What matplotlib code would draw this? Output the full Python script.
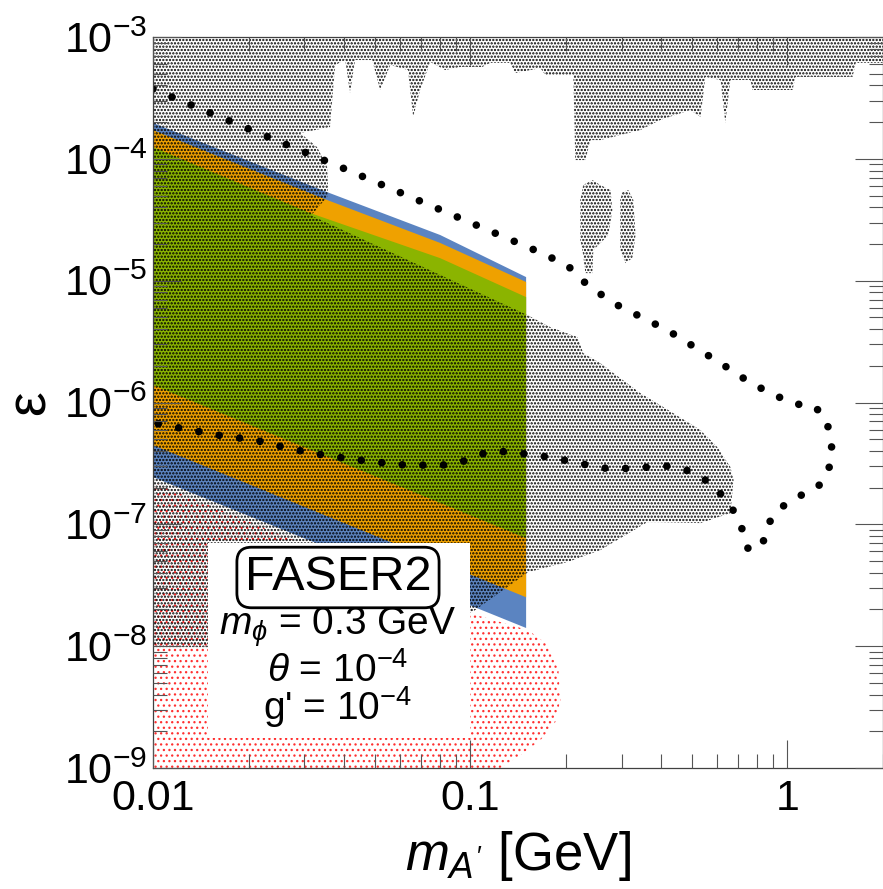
import numpy as np
import matplotlib
matplotlib.use("Agg")
import matplotlib.pyplot as plt
from matplotlib.patches import Rectangle
from matplotlib.ticker import FixedLocator, FixedFormatter, NullFormatter, LogLocator

plt.rcParams['font.family'] = ['Liberation Sans', 'DejaVu Sans']
plt.rcParams['mathtext.fontset'] = 'custom'
plt.rcParams['mathtext.rm'] = 'Liberation Sans'
plt.rcParams['mathtext.it'] = 'Liberation Sans:italic'
plt.rcParams['mathtext.bf'] = 'Liberation Sans:bold'
plt.rcParams['hatch.linewidth'] = 1.1

# --- sensitivity bands (m_A' in GeV, epsilon) ---
band_x_top = [0.01, 0.0354, 0.0804, 0.15]
green_x_top = [0.01, 0.0313, 0.0804, 0.15]
band_x_bot = [0.01, 0.15]
blue_top = [1.97e-4, 5.33e-5, 2.37e-5, 1.07e-5]
orange_top = [1.72e-4, 4.59e-5, 2.04e-5, 9.75e-6]
green_top = [1.25e-4, 3.59e-5, 1.53e-5, 7.33e-6]
blue_bot = [2.44e-7, 1.41e-8]
orange_bot = [4.47e-7, 2.52e-8]
green_bot = [1.39e-6, 7.7e-8]

# --- existing constraints (grey), given as log10 values ---
grey_lx = [-2.000, 0.303, 0.303, 0.215, 0.205, 0.025, 0.016, -0.110, -0.117, -0.180,
           -0.196, -0.211, -0.259, -0.274, -0.306, -0.401, -0.464, -0.590, -0.621, -0.637,
           -0.669, -0.675, -0.763, -0.779, -0.858, -0.874, -0.937, -0.962, -1.032, -1.079,
           -1.126, -1.158, -1.180, -1.196, -1.252, -1.284, -1.309, -1.363, -1.379, -1.394,
           -1.426, -1.442, -1.536, -1.483, -1.451,
           -1.448, -1.451, -1.495, -1.505, -0.820, -0.748, -0.662, -0.644, -0.590, -0.464,
           -0.360, -0.274, -0.221, -0.180, -0.170, -0.180, -0.274, -0.410, -0.442, -0.590,
           -0.694, -0.817, -0.994, -1.827, -2.000]
grey_ly = [-3.000, -3.000, -3.213, -3.213, -3.328, -3.328, -3.435, -3.435, -3.353, -3.353,
           -3.706, -3.353, -3.328, -3.657, -3.599, -3.681, -3.764, -3.846, -3.846, -4.010,
           -4.010, -3.312, -3.312, -3.255, -3.296, -3.213, -3.213, -3.246, -3.246, -3.271,
           -3.205, -3.435, -3.657, -3.271, -3.230, -3.435, -3.189, -3.189, -3.460, -3.189,
           -3.230, -3.739, -3.788, -3.903, -4.067,
           -4.232, -4.314, -4.445, -4.461, -5.282, -5.381, -5.463, -5.594, -5.677, -5.923,
           -6.087, -6.227, -6.366, -6.530, -6.637, -6.908, -6.990, -6.982, -6.982, -7.212,
           -7.310, -7.392, -7.721, -8.008, -8.008]
island1_lx = [-0.644, -0.615, -0.590, -0.558, -0.552, -0.565, -0.596, -0.612, -0.615,
              -0.637, -0.644, -0.653, -0.653]
island1_ly = [-4.215, -4.174, -4.215, -4.256, -4.420, -4.626, -4.708, -4.749, -4.938,
              -4.938, -4.790, -4.667, -4.338]
island2_lx = [-0.521, -0.502, -0.486, -0.479, -0.489, -0.511, -0.527, -0.527]
island2_ly = [-4.273, -4.256, -4.338, -4.626, -4.814, -4.856, -4.749, -4.338]

# --- red dotted region (log10) ---
red_lx = [-2.000, -0.991, -0.817, -0.754, -0.722, -0.716, -0.732, -0.779, -0.842, -0.905, -2.000]
red_ly = [-6.654, -7.737, -7.869, -7.992, -8.197, -8.443, -8.624, -8.772, -8.895, -9.000, -9.000]

# --- black dotted contour (log10) ---
contour_lx = [-2.000, -1.978, -1.394, -0.804, -0.694, -0.653, -0.555, -0.379, -0.211, -0.120,
              -0.054, 0.022, 0.079, 0.117, 0.132, 0.139, 0.139, 0.129, 0.098, 0.038,
              -0.019, -0.057, -0.073, -0.082, -0.104, -0.126, -0.139, -0.155, -0.180, -0.215,
              -0.259, -0.319, -0.379, -0.435, -0.495, -0.555, -0.615, -0.675, -0.735, -0.795,
              -0.852, -0.909, -0.968, -1.028, -1.088, -1.205, -1.325, -1.445, -1.562, -1.678,
              -1.795, -1.915, -1.978, -2.000]
contour_ly = [-3.427, -3.452, -4.084, -4.741, -4.872, -4.987, -5.176, -5.406, -5.677, -5.833,
              -5.923, -6.013, -6.021, -6.112, -6.235, -6.366, -6.456, -6.555, -6.686, -6.768,
              -6.859, -6.982, -7.113, -7.187, -7.204, -7.195, -7.072, -6.949, -6.851, -6.736,
              -6.637, -6.555, -6.522, -6.530, -6.539, -6.547, -6.522, -6.489, -6.456, -6.432,
              -6.415, -6.399, -6.424, -6.489, -6.514, -6.514, -6.481, -6.440, -6.383, -6.309,
              -6.268, -6.210, -6.177, -6.169]

x_ticks = [0.01, 0.1, 1]
x_ticklabels = ['0.01', '0.1', '1']
y_ticks = [1e-9, 1e-8, 1e-7, 1e-6, 1e-5, 1e-4, 1e-3]
y_ticklabels = [r'$10^{-9}$', r'$10^{-8}$', r'$10^{-7}$', r'$10^{-6}$', r'$10^{-5}$',
                r'$10^{-4}$', r'$10^{-3}$']
legend_lines = [r"$m_\phi$ = 0.3 GeV", r"$\theta$ = 10$^{-4}$", r"g' = 10$^{-4}$"]

fig = plt.figure(figsize=(8.83, 8.89), dpi=100)
ax = fig.add_axes([153 / 883, 121 / 889, 730 / 883, 731 / 889])
ax.set_xscale('log')
ax.set_yscale('log')
ax.set_xlim(0.01, 2)
ax.set_ylim(1e-9, 1e-3)


def band(xt, yt, yb):
    xs = list(xt) + band_x_bot[::-1]
    ys = list(yt) + yb[::-1]
    return xs, ys


def hatch_lw(patches, w):
    for p in patches:
        if hasattr(p, 'set_hatch_linewidth'):
            p.set_hatch_linewidth(w)


red = ax.fill(10 ** np.array(red_lx), 10 ** np.array(red_ly), facecolor='none',
              edgecolor='#ff3030', hatch='...', linewidth=0, zorder=1)
hatch_lw(red, 0.9)

for xt, yt, yb, col, z in [(band_x_top, blue_top, blue_bot, '#5B84C1', 2),
                           (band_x_top, orange_top, orange_bot, '#EFA100', 3),
                           (green_x_top, green_top, green_bot, '#8BB400', 4)]:
    xs, ys = band(xt, yt, yb)
    ax.fill(xs, ys, facecolor=col, edgecolor='none', zorder=z)

for lx, ly in [(grey_lx, grey_ly), (island1_lx, island1_ly), (island2_lx, island2_ly)]:
    g = ax.fill(10 ** np.array(lx), 10 ** np.array(ly), facecolor='none',
                edgecolor='black', hatch='.....', linewidth=0, zorder=5)
    hatch_lw(g, 1.1)

ax.plot(10 ** np.array(contour_lx), 10 ** np.array(contour_ly), color='black', lw=5.5,
        linestyle=(0, (0.001, 2.7)), dash_capstyle='round', zorder=6)

# label box
ax.add_patch(Rectangle((0.0753, 0.041), 0.359, 0.267, transform=ax.transAxes,
                       facecolor='white', edgecolor='none', zorder=7))
ax.text(0.2534, 0.2435, 'FASER2', transform=ax.transAxes, fontsize=35, ha='center',
        va='baseline', zorder=8,
        bbox=dict(boxstyle='round,pad=0.16,rounding_size=0.3', facecolor='white',
                  edgecolor='black', linewidth=2))
for txt, yb in zip(legend_lines, [0.182, 0.1176, 0.0657]):
    ax.text(0.2534, yb, txt, transform=ax.transAxes, fontsize=28, ha='center',
            va='baseline', zorder=8)

# axes / ticks
ax.xaxis.set_major_locator(FixedLocator(x_ticks))
ax.xaxis.set_major_formatter(FixedFormatter(x_ticklabels))
ax.xaxis.set_minor_locator(LogLocator(base=10, subs=np.arange(2, 10), numticks=20))
ax.xaxis.set_minor_formatter(NullFormatter())
ax.yaxis.set_major_locator(FixedLocator(y_ticks))
ax.yaxis.set_major_formatter(FixedFormatter(y_ticklabels))
ax.yaxis.set_minor_locator(LogLocator(base=10, subs=np.arange(2, 10), numticks=20))
ax.yaxis.set_minor_formatter(NullFormatter())

ax.tick_params(which='both', direction='in', top=True, right=True, color='#555555', width=0.8)
ax.tick_params(which='major', length=20, labelsize=31)
ax.tick_params(which='minor', length=10)
ax.tick_params(axis='y', pad=4)
ax.tick_params(axis='x', pad=8)
for sp in ax.spines.values():
    sp.set_color('#404040')
    sp.set_linewidth(0.9)
    sp.set_zorder(10)
ax.xaxis.set_zorder(10)
ax.yaxis.set_zorder(10)

ax.set_ylabel('ε', fontsize=40, ha='center', va='center')
ax.yaxis.set_label_coords(-0.167, 0.5)
ax.set_xlabel(r"$m_{A'}$ [GeV]", fontsize=38)
ax.xaxis.set_label_coords(0.5, -0.083)

fig.savefig('out.png', dpi=100)
